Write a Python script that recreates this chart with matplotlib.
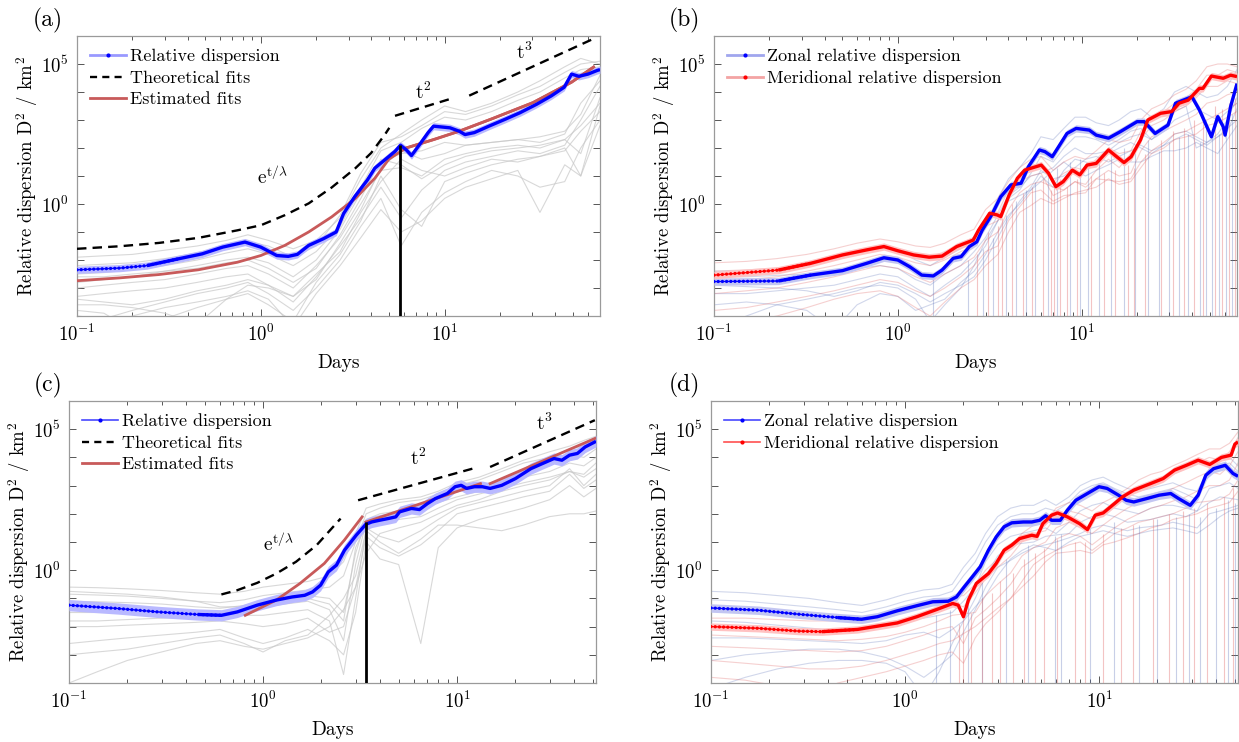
import numpy as np
import matplotlib
matplotlib.use("Agg")
import matplotlib.pyplot as plt
from matplotlib.lines import Line2D
from matplotlib.ticker import FixedLocator, NullFormatter, LogFormatterSciNotation

plt.rcParams.update({
    "font.family": "serif",
    "font.serif": ["cmr10"],
    "mathtext.fontset": "cm",
    "axes.unicode_minus": False,
    "axes.formatter.use_mathtext": True,
})

# ---------------- data (log10 of D^2 in km^2, time in days) ----------------
# Panel (a)
a_blue_t = [0.1, 0.17, 0.24, 0.355, 0.48, 0.62, 0.82, 1.0, 1.22, 1.41, 1.58, 1.82, 2.19, 2.57, 2.82,
            3.24, 3.8, 4.17, 4.73, 5.37, 5.75, 6.17, 6.6, 7.41, 8.13, 8.7, 10.7, 12.0, 12.9, 14.5,
            17.4, 21.4, 25.7, 31.6, 38.0, 44.7, 49.0, 53.7, 60.3, 67.6, 70.0]
a_blue_logD = [-2.35, -2.29, -2.2, -1.96, -1.78, -1.54, -1.36, -1.54, -1.84, -1.87, -1.8, -1.48, -1.24,
               -1.0, -0.34, 0.26, 0.86, 1.28, 1.58, 1.88, 2.1, 1.94, 1.73, 2.18, 2.55, 2.78, 2.72, 2.6,
               2.48, 2.55, 2.78, 3.03, 3.26, 3.56, 3.86, 4.17, 4.64, 4.56, 4.64, 4.77, 4.8]
a_fit_t = [0.1, 0.17, 0.279, 0.457, 0.746, 1.0, 1.35, 1.82, 2.43, 3.27, 4.17, 4.97, 6.17, 8.7, 12.0,
           18.2, 30.2, 49.0, 64.6]
a_fit_logD = [-2.74, -2.64, -2.52, -2.35, -2.08, -1.84, -1.48, -1.0, -0.46, 0.2, 0.92, 1.6, 2.0, 2.3,
              2.6, 3.05, 3.62, 4.35, 4.89]
a_exp_t = [0.1, 0.17, 0.279, 0.457, 0.746, 1.0, 1.35, 1.82, 2.43, 3.27, 3.98, 4.73, 5.0]
a_exp_logD = [-1.6, -1.51, -1.39, -1.21, -0.94, -0.76, -0.4, 0.02, 0.59, 1.28, 1.82, 2.48, 2.72]
a_t2_t = [5.37, 11.2]
a_t2_logD = [3.15, 3.79]
a_t3_t = [13.6, 63.0]
a_t3_logD = [3.87, 5.87]
a_split_t = 5.75
a_split_logD = 2.1

ga_t = [0.1, 0.14, 0.2, 0.3, 0.45, 0.65, 0.85, 1.1, 1.5, 2.0, 2.7, 3.5, 4.5, 5.8, 7.5, 10, 13, 18, 25,
        33, 45, 55, 70]
ga_lines = [
    [-1.9, -1.85, -1.8, -1.65, -1.5, -1.3, -1.1, -1.3, -1.6, -1.3, -0.5, 0.9, 2.0, 2.5, 3.0, 3.5, 3.3, 3.6, 4.0, 4.4, 4.9, 5.2, 5.0],
    [-2.2, -2.15, -2.1, -1.95, -1.75, -1.5, -1.35, -1.5, -1.9, -1.5, -0.4, 1.1, 2.2, 2.4, 2.8, 3.3, 3.2, 3.5, 3.9, 4.2, 4.7, 5.0, 5.1],
    [-2.5, -2.45, -2.35, -2.2, -2.0, -1.75, -1.6, -1.8, -2.2, -1.7, -0.8, 0.6, 1.9, 2.2, 2.7, 3.1, 3.0, 3.3, 3.7, 4.0, 4.5, 4.8, 4.9],
    [-2.8, -2.7, -2.6, -2.4, -2.2, -2.0, -1.9, -2.1, -2.6, -2.0, -0.9, 0.4, 1.5, 1.8, 1.9, 2.2, 2.1, 2.2, 2.3, 2.2, 2.5, 3.6, 4.4],
    [-3.0, -2.9, -2.8, -2.7, -2.5, -2.3, -2.2, -2.5, -3.0, -2.2, -1.2, 0.0, 1.2, 1.3, 1.0, 1.6, 1.8, 2.0, 2.1, 2.0, 2.3, 1.8, 3.8],
    [-3.3, -3.2, -3.1, -3.0, -2.8, -2.6, -2.5, -2.9, -3.5, -2.6, -1.5, -0.5, 0.6, -0.5, 0.5, 1.2, 1.5, 1.7, 1.9, 1.8, 2.1, 3.0, 4.2],
    [-3.6, -3.6, -3.7, -3.9, -4.3, -3.4, -2.9, -3.0, -3.3, -2.5, -1.7, -0.3, 0.8, 1.6, 1.2, 1.0, 1.3, 1.6, 1.5, 1.7, 2.0, 1.0, 3.5],
    [-4.0, -4.1, -3.8, -3.5, -3.2, -3.0, -2.8, -3.2, -3.8, -3.0, -2.0, -0.8, 0.2, -1.5, -0.3, 0.4, 0.8, 1.2, 1.0, 0.6, 0.8, 2.0, 3.0],
    [-3.4, -3.5, -3.6, -3.4, -3.1, -2.9, -2.7, -2.9, -3.3, -2.7, -1.4, -0.2, 1.3, 1.9, 1.6, 1.8, 2.1, 2.2, 2.3, 2.4, 2.6, 3.2, 4.6],
    [-4.6, -4.3, -4.0, -3.7, -3.5, -3.3, -3.1, -3.4, -4.4, -3.2, -2.2, -1.2, -0.2, -1.0, -0.6, 0.2, 0.6, 0.9, 1.2, -0.3, 1.4, 1.0, 2.8],
    [-2.6, -2.6, -2.5, -2.4, -2.3, -2.1, -2.0, -2.3, -2.8, -2.3, -1.1, 0.2, 1.6, 1.4, 0.9, 1.4, 1.7, 1.9, 2.0, 2.1, 2.3, 2.8, 3.6],
    [-3.8, -3.9, -4.5, -4.1, -3.7, -3.4, -3.2, -3.6, -4.2, -2.8, -1.8, -0.6, 1.0, -0.2, -0.8, 0.8, 1.1, 1.4, 1.6, 1.7, 1.9, 2.6, 3.3],
]

# Panel (b)
b_blue_t = [0.1, 0.224, 0.335, 0.5, 0.676, 0.84, 1.0, 1.16, 1.35, 1.56, 1.74, 2.0, 2.21, 2.45, 2.69, 2.88,
            3.24, 3.63, 4.12, 4.68, 5.13, 5.89, 6.31, 6.92, 7.5, 8.32, 9.33, 11.0, 12.0, 14.0, 16.2,
            20.0, 21.9, 25.1, 29.5, 32.4, 39.8, 43.7, 50.8, 55.0, 58.9, 60.3, 64.6, 70.0]
b_blue_logD = [-2.77, -2.75, -2.54, -2.38, -2.12, -1.92, -2.0, -2.24, -2.54, -2.57, -2.36, -1.94, -1.88,
               -1.52, -1.35, -0.93, -0.39, 0.26, 0.68, 0.74, 1.33, 1.93, 1.87, 1.69, 2.05, 2.52, 2.7,
               2.64, 2.46, 2.35, 2.58, 2.94, 2.94, 2.52, 2.82, 3.6, 3.83, 3.36, 2.4, 3.12, 2.76, 2.46,
               3.48, 4.3]
b_red_t = [0.1, 0.224, 0.335, 0.5, 0.676, 0.84, 1.0, 1.22, 1.48, 1.74, 2.09, 2.57, 2.75, 3.16, 3.47,
           3.63, 4.03, 4.47, 4.9, 6.03, 6.6, 7.24, 7.94, 8.9, 9.77, 10.7, 12.0, 14.0, 15.5, 17.0, 18.6,
           20.9, 22.9, 26.9, 30.9, 33.9, 38.0, 43.7, 45.7, 50.8, 58.9, 64.6, 70.0]
b_red_logD = [-2.54, -2.36, -2.12, -1.82, -1.64, -1.52, -1.67, -1.82, -1.9, -1.86, -1.52, -1.29, -0.93,
              -0.33, -0.39, -0.45, 0.32, 0.92, 1.21, 1.39, 1.1, 0.62, 0.8, 1.21, 1.04, 1.39, 1.45, 1.93,
              1.69, 1.48, 1.69, 2.29, 3.0, 3.24, 3.3, 3.6, 3.71, 4.13, 4.13, 4.57, 4.49, 4.6, 4.55]

gb_t = [0.1, 0.15, 0.22, 0.32, 0.45, 0.6, 0.8, 1.0, 1.25, 1.5, 1.8, 2.2, 2.6, 3.0, 3.5, 4.0, 4.6, 5.3,
        6.0, 7.0, 8.0, 9.2, 10.5, 12, 14, 16, 18.5, 21, 24, 28, 32, 37, 42, 48, 55, 62, 70]
gb_blue = [
    [-2.4, -2.4, -2.35, -2.2, -2.0, -1.8, -1.6, -1.65, -2.0, -2.2, -1.9, -1.6, -1.2, -0.7, 0.2, 0.9, 1.3, 1.8, 2.4, 2.3, 2.7, 3.1, 3.1, 2.9, 2.8, 3.0, 3.3, 3.4, 3.1, 3.4, 4.0, 4.2, 4.0, 3.8, 3.9, 4.2, 4.8],
    [-3.2, -3.2, -3.1, -3.0, -2.9, -2.7, -2.5, -2.6, -3.0, -3.3, -2.9, -2.5, -2.0, -1.5, -0.6, 0.2, 0.5, 1.1, 1.7, 1.5, 2.0, 2.4, 2.4, 2.3, 2.1, 2.3, 2.6, 2.7, 2.3, 2.7, 3.3, 3.5, 2.0, 2.2, 2.5, 3.0, 3.8],
    [-3.6, -3.5, -3.6, -3.8, -4.5, -3.6, -3.2, -3.3, -3.8, -3.6, -3.4, -2.8, -2.4, -1.8, -1.0, -0.4, 0.0, 0.5, 1.0, 0.6, 1.2, 1.6, 1.5, 1.4, 1.8, 2.0, 2.2, 2.0, 1.8, 2.1, 2.5, 2.6, 2.4, 2.2, 2.4, 2.6, 3.4],
    [-2.9, -2.95, -3.0, -3.1, -3.3, -3.1, -2.8, -2.9, -3.2, -3.5, -3.2, -2.9, -2.6, -2.0, -1.2, -0.5, 0.1, 0.6, 1.2, 0.9, 1.0, 1.3, 1.6, 1.7, 1.5, 1.7, 1.9, 2.1, 1.9, 2.1, 2.3, 2.5, 2.3, 2.1, 2.4, 2.7, 3.0],
    [-4.5, -4.0, -3.6, -3.4, -3.2, -3.0, -2.9, -3.0, -3.4, -4.2, -3.6, -3.0, -2.2, -1.3, -0.6, 0.1, 0.3, 0.5, 0.8, 1.2, 1.5, 1.2, 1.0, 1.2, 1.4, 1.6, 1.5, 1.5, 1.7, 1.9, 1.9, 2.0, 2.2, 2.0, 1.8, 2.3, 2.8],
    [-2.6, -2.6, -2.55, -2.5, -2.45, -2.3, -2.2, -2.3, -2.7, -2.9, -2.5, -2.2, -1.7, -1.2, -0.4, 0.3, 0.6, 1.0, 1.1, 1.3, 1.7, 2.0, 1.8, 1.8, 1.9, 2.2, 2.4, 2.5, 2.3, 2.6, 3.0, 3.2, 3.4, 3.2, 3.0, 3.3, 3.6],
]
gb_red = [
    [-2.1, -2.05, -1.95, -1.8, -1.6, -1.4, -1.25, -1.35, -1.5, -1.55, -1.4, -1.1, -0.9, -0.2, 0.2, 0.8, 1.3, 1.6, 1.7, 1.2, 1.5, 1.7, 1.6, 1.9, 2.3, 2.2, 2.3, 3.0, 3.4, 3.6, 3.9, 4.1, 4.4, 4.9, 5.0, 5.0, 4.9],
    [-2.8, -2.7, -2.6, -2.4, -2.2, -2.0, -1.8, -1.9, -2.1, -2.2, -2.0, -1.7, -1.5, -0.8, -0.6, 0.2, 0.8, 1.0, 1.1, 0.3, 0.5, 0.8, 0.7, 1.2, 1.6, 1.3, 1.8, 2.3, 2.8, 3.0, 3.3, 3.5, 3.8, 4.2, 4.2, 4.4, 4.3],
    [-3.2, -3.1, -3.0, -2.8, -2.6, -2.4, -2.2, -2.3, -2.6, -2.8, -2.5, -2.2, -1.9, -1.3, -1.0, -0.2, 0.4, 0.7, 0.8, 0.6, 0.5, 0.8, 0.6, 0.9, 1.2, 1.0, 1.1, 1.9, 2.4, 2.6, 2.8, 3.0, 3.2, 3.6, 3.7, 3.9, 4.0],
    [-3.8, -3.7, -3.5, -3.3, -3.1, -2.9, -2.7, -2.8, -3.1, -3.3, -3.0, -2.6, -2.2, -1.7, -1.5, -0.6, -0.1, 0.4, 0.5, 0.1, 0.3, 0.35, 0.4, 0.9, 0.85, 0.8, 0.9, 1.5, 1.9, 2.2, 2.5, 2.6, 2.8, 3.0, 3.2, 3.4, 3.6],
    [-4.5, -4.2, -4.0, -3.7, -3.4, -3.2, -3.1, -3.3, -3.7, -4.0, -3.5, -3.0, -2.7, -2.2, -1.8, -1.0, -0.3, -0.05, 0.2, 0.0, 0.2, 0.4, 0.5, 0.6, 0.9, 0.7, 0.8, 1.3, 1.8, 2.0, 2.3, 2.4, 2.5, 2.8, 2.9, 3.1, 3.3],
    [-2.4, -2.35, -2.3, -2.1, -1.9, -1.7, -1.55, -1.65, -1.8, -1.9, -1.7, -1.4, -1.2, -0.6, -0.3, 0.5, 1.0, 1.3, 1.4, 0.8, 1.1, 1.3, 1.2, 1.6, 2.0, 1.8, 1.9, 2.6, 3.1, 3.3, 3.6, 3.8, 4.1, 4.6, 4.6, 4.8, 4.7],
]
# narrow downward spikes of the individual pair curves: (time, level where they leave the curve)
b_blue_spk_t = [1.55, 2.4, 2.9, 3.3, 3.9, 4.4, 5.0, 5.6, 6.6, 7.3, 8.6, 9.8, 10.8, 12.5, 14.5, 17.0,
                19.5, 23.0, 26.5, 30.0, 34.0, 38.0, 44.0, 47.5, 51.0, 56.0, 61.0, 66.0]
b_blue_spk_top = [-2.6, -2.0, -1.6, -1.2, -0.4, 0.1, 0.5, 0.8, 1.0, 1.3, 1.5, 1.6, 1.5, 1.6, 1.9, 2.0,
                  2.1, 2.3, 1.9, 2.2, 2.4, 2.5, 2.2, 3.0, 2.6, 2.5, 3.0, 3.2]
b_red_spk_t = [2.7, 3.1, 3.5, 3.7, 4.2, 4.8, 5.4, 6.2, 6.8, 7.1, 7.6, 8.3, 9.4, 11.3, 13.3, 15.2, 17.8,
               19.2, 22.0, 27.0, 31.5, 36.0, 41.0, 46.0, 53.0, 58.0, 63.5, 68.0]
b_red_spk_top = [-1.8, -1.0, -0.8, -0.5, 0.0, 0.4, 0.6, 0.9, 0.5, 0.7, 0.9, 0.6, 0.9, 1.0, 1.1, 1.2, 1.4,
                 1.3, 1.8, 2.3, 2.6, 2.7, 3.0, 3.2, 3.5, 3.4, 3.6, 3.8]

# Panel (c)
c_blue_t = [0.1, 0.18, 0.288, 0.46, 0.61, 0.736, 0.933, 1.17, 1.41, 1.64, 1.8, 1.98, 2.17, 2.39, 2.63,
            3.02, 3.39, 3.63, 3.98, 4.4, 4.83, 5.06, 5.82, 6.4, 7.03, 7.73, 8.91, 9.77, 10.5, 11.2,
            12.3, 13.5, 14.8, 17.0, 20.0, 24.0, 27.5, 31.6, 34.7, 38.0, 41.7, 45.7, 52.0]
c_blue_logD = [-1.24, -1.36, -1.48, -1.57, -1.6, -1.48, -1.24, -1.06, -0.95, -0.89, -0.77, -0.53, -0.06,
               0.18, 0.71, 1.24, 1.63, 1.71, 1.77, 1.83, 1.89, 2.07, 2.19, 2.15, 2.36, 2.54, 2.72, 2.96,
               3.01, 2.9, 2.96, 2.96, 2.9, 3.01, 3.25, 3.6, 3.78, 3.96, 3.9, 4.08, 4.14, 4.37, 4.57]
c_fit1_t = [0.81, 1.17, 1.55, 2.07, 2.62, 3.24]
c_fit1_logD = [-1.6, -1.06, -0.47, 0.24, 1.06, 1.89]
c_fit2_t = [3.39, 13.2]
c_fit2_logD = [1.71, 3.07]
c_fit3_t = [14.8, 51.3]
c_fit3_logD = [3.07, 4.67]
c_exp_t = [0.61, 0.736, 0.933, 1.17, 1.48, 1.89, 2.51]
c_exp_logD = [-0.86, -0.71, -0.45, -0.12, 0.3, 0.89, 1.83]
c_t2_t = [3.09, 12.0]
c_t2_logD = [2.48, 3.6]
c_t3_t = [14.8, 51.3]
c_t3_logD = [3.66, 5.32]
c_split_t = 3.39
c_split_logD = 1.71

gc_t = [0.1, 0.14, 0.2, 0.3, 0.45, 0.6, 0.8, 1.0, 1.3, 1.7, 2.2, 2.6, 3.0, 3.4, 4.0, 5.0, 6.5, 8, 10,
        13, 17, 22, 30, 38, 45, 52]
gc_lines = [
    [-0.6, -0.62, -0.66, -0.72, -0.8, -0.85, -0.75, -0.6, -0.5, -0.4, -0.2, 0.3, 1.3, 2.2, 2.35, 2.5, 2.6, 2.8, 3.1, 3.3, 3.6, 3.9, 4.2, 4.4, 4.6, 4.75],
    [-0.85, -0.88, -0.92, -1.0, -1.1, -1.15, -1.05, -0.9, -0.8, -0.7, -0.6, -0.2, 1.0, 2.0, 2.2, 2.4, 2.5, 2.7, 3.0, 3.2, 3.5, 3.8, 4.0, 4.3, 4.4, 4.6],
    [-1.1, -1.12, -1.15, -1.2, -1.3, -1.35, -1.25, -1.1, -1.0, -0.9, -1.0, -1.5, 0.6, 1.8, 2.0, 2.1, 2.2, 2.5, 2.8, 3.0, 3.2, 3.5, 3.7, 4.1, 4.0, 4.3],
    [-1.5, -1.5, -1.5, -1.5, -1.5, -1.5, -1.4, -1.3, -1.2, -1.1, -1.4, -2.5, 0.2, 1.7, 1.6, 1.8, 1.9, 2.2, 2.5, 2.7, 2.9, 3.1, 3.3, 3.5, 3.4, 3.8],
    [-1.8, -1.8, -1.75, -1.7, -1.65, -1.6, -1.6, -1.6, -1.5, -1.4, -1.8, -3.7, -1.0, 1.5, 1.2, 1.0, 1.4, 1.8, 2.2, 2.4, 2.6, 2.8, 3.0, 3.6, 3.0, 3.4],
    [-2.0, -2.0, -1.95, -1.9, -1.85, -1.8, -1.9, -2.0, -1.9, -1.7, -2.2, -2.0, -0.6, 1.2, 0.8, 0.5, 0.9, 1.4, 2.0, 2.2, 2.4, 2.6, 2.8, 3.4, 2.9, 3.2],
    [-2.6, -2.5, -2.4, -2.3, -2.2, -2.1, -2.4, -2.6, -2.4, -2.1, -2.5, -3.0, -1.5, 1.0, 0.4, 0.2, -2.6, 0.8, 1.5, 1.8, 2.0, 2.2, 2.5, 3.0, 2.6, 2.9],
    [-3.0, -2.9, -2.8, -2.6, -2.4, -2.3, -2.6, -2.9, -2.5, -2.3, -1.6, -1.0, -0.2, 1.4, 1.0, 0.6, 1.1, 1.6, 1.6, 1.5, 1.4, 1.6, 1.9, 2.0, 2.0, 2.1],
    [-4.0, -3.6, -3.2, -2.9, -2.6, -2.5, -2.7, -2.8, -2.6, -2.4, -2.0, -1.4, -0.6, 0.6, 1.3, 1.5, 1.7, 2.0, 2.3, 2.5, 2.8, 3.0, 3.2, 3.5, 3.3, 3.6],
    [-0.75, -0.8, -0.85, -0.95, -1.1, -1.3, -1.3, -1.2, -1.1, -1.0, -1.2, -1.8, 0.8, 1.6, 1.8, 2.0, 2.3, 2.4, 2.6, 2.8, 3.0, 3.3, 3.5, 3.8, 3.7, 4.0],
]

# Panel (d)
d_blue_t = [0.1, 0.176, 0.282, 0.45, 0.597, 0.72, 0.912, 1.15, 1.39, 1.67, 1.84, 2.02, 2.22, 2.44, 2.69,
            2.95, 3.24, 3.55, 4.07, 4.5, 4.94, 5.3, 5.69, 6.31, 6.87, 7.59, 8.71, 10.0, 11.0, 12.6,
            13.8, 15.1, 17.6, 20.4, 23.4, 25.7, 29.5, 32.4, 35.5, 38.9, 44.7, 49.0, 52.0]
d_blue_logD = [-1.34, -1.42, -1.56, -1.68, -1.74, -1.65, -1.44, -1.26, -1.12, -1.1, -0.95, -0.59, -0.24,
               0.12, 0.71, 1.18, 1.54, 1.68, 1.71, 1.71, 1.77, 1.93, 1.77, 1.77, 2.13, 2.48, 2.72, 2.96,
               2.9, 2.66, 2.48, 2.42, 2.54, 2.66, 2.72, 2.54, 2.3, 2.66, 3.37, 3.6, 3.72, 3.43, 3.33]
d_red_t = [0.1, 0.176, 0.282, 0.372, 0.569, 0.912, 1.15, 1.46, 1.76, 1.88, 2.0, 2.12, 2.33, 2.69, 2.95,
           3.24, 3.55, 3.89, 4.5, 4.79, 5.13, 5.69, 6.11, 6.87, 7.94, 8.71, 9.55, 10.5, 12.0, 13.2,
           15.1, 18.4, 21.4, 24.5, 28.2, 32.4, 37.2, 42.7, 47.9, 50.1, 52.0]
d_red_logD = [-2.0, -2.06, -2.16, -2.18, -2.1, -1.87, -1.65, -1.39, -1.18, -1.24, -1.65, -1.06, -0.47,
              -0.12, 0.24, 0.71, 0.89, 1.12, 1.24, 1.2, 1.65, 1.95, 2.03, 1.89, 1.65, 1.44, 1.95, 2.03,
              2.36, 2.6, 2.84, 3.07, 3.25, 3.55, 3.72, 3.9, 3.75, 4.0, 4.08, 4.47, 4.55]

gd_t = [0.1, 0.15, 0.22, 0.32, 0.45, 0.6, 0.8, 1.0, 1.25, 1.5, 1.75, 2.0, 2.3, 2.6, 3.0, 3.5, 4.0, 4.6,
        5.3, 6.0, 7.0, 8.0, 9.2, 10.5, 12, 14, 16, 18.5, 21, 24, 28, 32, 37, 42, 47, 52]
gd_blue = [
    [-0.75, -0.8, -0.9, -1.0, -1.15, -1.25, -1.05, -0.85, -0.7, -0.65, -0.5, 0.1, 0.6, 1.3, 1.9, 2.2, 2.3, 2.3, 2.5, 2.3, 2.6, 3.0, 3.2, 3.3, 3.1, 2.9, 2.8, 2.9, 3.0, 3.1, 2.9, 2.8, 3.6, 3.9, 4.0, 3.7],
    [-1.05, -1.1, -1.2, -1.3, -1.4, -1.5, -1.3, -1.1, -0.95, -0.9, -0.75, -0.2, 0.3, 1.0, 1.6, 1.9, 2.0, 2.0, 2.2, 2.1, 2.4, 2.8, 3.0, 3.1, 2.9, 2.7, 2.6, 2.7, 2.8, 2.9, 2.7, 2.5, 3.4, 3.7, 3.8, 3.5],
    [-1.8, -1.85, -1.95, -2.05, -2.15, -2.2, -2.0, -1.8, -1.7, -1.6, -1.5, -1.1, -0.6, 0.3, 0.9, 1.2, 1.3, 1.4, 1.5, 1.3, 1.7, 2.1, 2.3, 2.4, 2.2, 2.1, 2.0, 2.2, 2.3, 2.3, 2.2, 2.1, 2.9, 3.0, 3.1, 2.9],
    [-2.4, -2.4, -2.45, -2.5, -2.55, -2.6, -2.5, -2.3, -2.2, -2.4, -2.1, -1.8, -1.0, -0.2, 0.5, 0.9, 0.95, 1.0, 1.2, 1.25, 1.3, 1.7, 1.9, 2.0, 1.9, 1.7, 1.75, 1.8, 1.9, 2.0, 1.9, 2.1, 2.4, 2.6, 2.55, 2.5],
    [-3.2, -3.0, -2.9, -2.8, -2.8, -2.9, -3.1, -3.4, -3.8, -3.4, -3.0, -2.2, -1.4, -0.6, 0.1, 0.35, 0.6, 0.8, 0.9, 1.0, 1.15, 1.3, 1.5, 1.6, 1.5, 1.4, 1.5, 1.55, 1.6, 1.7, 1.6, 1.5, 2.0, 2.1, 2.2, 2.3],
    [-4.2, -3.8, -3.5, -3.3, -3.2, -3.2, -3.3, -3.6, -4.5, -3.6, -2.6, -1.8, -1.3, -0.9, -0.2, 0.4, 0.7, 0.9, 0.8, 0.7, 1.0, 1.2, 1.3, 1.4, 1.3, 1.2, 1.3, 1.4, 1.45, 1.5, 1.4, 1.3, 1.6, 1.9, 2.1, 2.2],
]
gd_red = [
    [-1.7, -1.7, -1.75, -1.8, -1.8, -1.75, -1.65, -1.5, -1.3, -1.1, -0.95, -0.9, -0.5, 0.0, 0.4, 0.8, 1.3, 1.6, 1.7, 2.2, 2.4, 2.3, 2.1, 2.4, 2.6, 2.9, 3.2, 3.4, 3.5, 3.7, 3.9, 4.1, 4.3, 4.3, 4.5, 4.9],
    [-2.3, -2.35, -2.4, -2.45, -2.5, -2.45, -2.35, -2.2, -2.0, -1.8, -1.6, -1.55, -1.5, -0.9, -0.5, -0.1, 0.5, 0.8, 1.0, 1.5, 1.7, 1.5, 1.3, 1.6, 1.9, 2.2, 2.4, 2.5, 2.7, 2.9, 3.1, 3.3, 3.5, 3.4, 3.7, 4.2],
    [-2.7, -2.75, -2.8, -2.85, -2.9, -2.85, -2.7, -2.5, -2.3, -2.1, -2.0, -2.6, -1.7, -1.4, -1.0, -0.5, 0.1, 0.4, 0.7, 1.1, 1.3, 1.2, 0.9, 1.2, 1.5, 1.8, 2.0, 2.2, 2.3, 2.45, 2.6, 2.8, 3.0, 3.0, 3.2, 3.8],
    [-3.2, -3.3, -3.4, -3.5, -3.5, -3.4, -3.2, -3.0, -2.8, -2.6, -2.5, -2.25, -2.0, -1.7, -1.35, -1.0, -0.4, 0.2, 0.5, 0.7, 0.9, 1.0, 0.7, 1.0, 1.3, 1.5, 1.7, 1.8, 1.9, 2.0, 2.2, 2.4, 2.45, 2.5, 2.7, 3.2],
    [-3.8, -3.9, -4.1, -4.5, -4.0, -3.8, -3.6, -3.4, -3.2, -3.0, -2.9, -3.3, -2.4, -1.9, -1.5, -1.0, -0.6, -0.2, 0.3, 0.6, 0.65, 0.7, 0.6, 0.9, 1.0, 1.15, 1.3, 1.5, 1.6, 1.8, 1.9, 2.0, 2.2, 2.3, 2.4, 2.8],
    [-2.0, -2.0, -2.05, -2.1, -2.1, -2.05, -1.95, -1.8, -1.55, -1.3, -1.15, -1.3, -0.8, -0.3, 0.1, 0.5, 1.0, 1.3, 1.4, 1.9, 2.1, 2.0, 1.8, 2.1, 2.4, 2.7, 2.9, 3.1, 3.2, 3.4, 3.6, 3.8, 4.0, 3.9, 4.2, 4.7],
]
d_blue_spk_t = [1.45, 1.7, 2.1, 2.5, 3.3, 4.3, 5.9, 6.4, 9.0, 12.0, 16.0, 20.0, 25.0, 29.0, 33.0, 40.0,
                46.0, 50.0]
d_blue_spk_top = [-1.6, -1.4, -0.9, -0.4, 0.4, 0.9, 1.2, 1.3, 1.6, 1.7, 1.6, 1.8, 1.9, 2.0, 1.9, 2.2,
                  2.5, 2.4]
d_red_spk_t = [1.9, 2.0, 2.2, 2.5, 2.8, 3.1, 3.6, 4.1, 4.7, 5.2, 6.1, 7.5, 8.5, 10.5, 13.0, 15.0, 19.0,
               23.0, 27.0, 31.0, 36.0, 44.0, 49.0]
d_red_spk_top = [-1.9, -1.7, -1.5, -1.0, -0.8, -0.4, -0.1, 0.4, 0.6, 0.8, 1.1, 1.0, 1.0, 1.3, 1.5, 1.6,
                 1.8, 2.0, 2.1, 2.2, 2.4, 2.6, 2.9]

xlim_ab = (0.1, 70)
xlim_cd = (0.1, 52)
ylim_all = (1e-4, 1e6)

ylabel_txt = "Relative dispersion D$^2$ / km$^2$"

# ---------------- styles ----------------
BLUE = "#0000ff"
RED = "#ff0000"
FITRED = "#c85a5a"
GREY = "#c8c8c8"
THINB = "#5a70b8"
THINR = "#e06464"
W, H = 1239, 742

fig = plt.figure(figsize=(W / 100, H / 100), dpi=100)


def axpos(l, r, t, b):
    return [l / W, 1 - b / H, (r - l) / W, (b - t) / H]


axa = fig.add_axes(axpos(77, 600, 36, 316))
axb = fig.add_axes(axpos(714, 1237, 36, 316))
axc = fig.add_axes(axpos(69, 596, 401, 683))
axd = fig.add_axes(axpos(711, 1238, 401, 683))


def style(ax, xlim):
    ax.set_xscale("log")
    ax.set_yscale("log")
    ax.set_xlim(*xlim)
    ax.set_ylim(*ylim_all)
    ax.yaxis.set_major_locator(FixedLocator([1e0, 1e5]))
    ax.yaxis.set_minor_locator(FixedLocator([10.0 ** k for k in range(-4, 7)]))
    ax.yaxis.set_minor_formatter(NullFormatter())
    ax.yaxis.set_major_formatter(LogFormatterSciNotation())
    ax.xaxis.set_major_locator(FixedLocator([0.1, 1, 10]))
    ax.xaxis.set_minor_locator(FixedLocator([m * 10.0 ** k for k in (-1, 0, 1) for m in range(2, 10)]))
    ax.xaxis.set_minor_formatter(NullFormatter())
    ax.xaxis.set_major_formatter(LogFormatterSciNotation())
    ax.tick_params(which="both", direction="in", top=True, right=True, colors="#555555",
                   labelcolor="black", labelsize=13.5, width=0.7)
    ax.tick_params(which="major", length=5, pad=6)
    ax.tick_params(axis="x", which="minor", length=3)
    ax.tick_params(axis="y", which="minor", length=5)
    for s in ax.spines.values():
        s.set_color("#9a9a9a")
        s.set_linewidth(0.9)
    ax.set_xlabel("Days", fontsize=14, labelpad=6)
    ax.set_ylabel(ylabel_txt, fontsize=13.5, labelpad=1)


def thin(ax, t, lines, color, alpha, lw=0.8):
    for ln in lines:
        ax.plot(t, 10.0 ** np.array(ln), color=color, alpha=alpha, lw=lw, zorder=2)


def spikes(ax, t, top, color, alpha):
    ax.vlines(t, 1e-5, 10.0 ** np.array(top), color=color, alpha=alpha, lw=0.8, zorder=2)


def main(ax, t, logD, color, band_color, dot_end, band, lw=2.4):
    t = np.array(t)
    D = 10.0 ** np.array(logD)
    ax.fill_between(t, D * 10 ** (-band), D * 10 ** band, color=band_color, lw=0, zorder=3)
    k = int((t <= dot_end).sum())
    ax.plot(t[:k + 1], D[:k + 1], color=color, lw=0.9, zorder=5)
    ax.plot(t[:k + 1], D[:k + 1], color=color, lw=2.4, ls=(0, (0.01, 1.25)),
            dash_capstyle="round", zorder=5)
    ax.plot(t[k - 1:], D[k - 1:], color=color, lw=lw, zorder=5, solid_capstyle="butt")


def seg(ax, t, logD, **kw):
    ax.plot(t, 10.0 ** np.array(logD), **kw)


DASH = dict(color="black", lw=1.7, ls=(0, (4, 2.6)), zorder=6)
FIT = dict(color=FITRED, lw=2.0, zorder=4)
LEG = dict(loc="upper left", frameon=False, fontsize=13, handlelength=2.0, handletextpad=0.25,
           labelspacing=0.32, borderaxespad=0.3)

# ---------------- (a) ----------------
style(axa, xlim_ab)
thin(axa, ga_t, ga_lines, GREY, 0.7)
seg(axa, a_fit_t, a_fit_logD, **FIT)
main(axa, a_blue_t, a_blue_logD, BLUE, "#b9b9ff", 0.24, 0.13)
seg(axa, a_fit_t[12:], a_fit_logD[12:], **FIT)
seg(axa, a_exp_t, a_exp_logD, **DASH)
seg(axa, a_t2_t, a_t2_logD, **DASH)
seg(axa, a_t3_t, a_t3_logD, **DASH)
axa.vlines(a_split_t, 1e-5, 10 ** a_split_logD, color="black", lw=2.0, zorder=7)
axa.text(1.16, 10 ** 0.98, r"e$^{\mathrm{t}/\lambda}$", fontsize=14, ha="center", va="center")
axa.text(7.6, 10 ** 4.0, r"t$^2$", fontsize=14, ha="center", va="center")
axa.text(27, 10 ** 5.43, r"t$^3$", fontsize=14, ha="center", va="center")
h_a = [Line2D([], [], color="#9999ff", lw=2.0, marker=".", mfc=BLUE, mec=BLUE, ms=4),
       Line2D([], [], color="black", lw=1.7, ls=(0, (3, 2.2))),
       Line2D([], [], color=FITRED, lw=2.0)]
axa.legend(h_a, ["Relative dispersion", "Theoretical fits", "Estimated fits"], **LEG)

# ---------------- (b) ----------------
style(axb, xlim_ab)
thin(axb, gb_t, gb_blue, THINB, 0.28)
thin(axb, gb_t, gb_red, THINR, 0.3)
spikes(axb, b_blue_spk_t, b_blue_spk_top, THINB, 0.33)
spikes(axb, b_red_spk_t, b_red_spk_top, THINR, 0.38)
main(axb, b_blue_t, b_blue_logD, BLUE, "#c3c6f2", 0.24, 0.13)
main(axb, b_red_t, b_red_logD, RED, "#ffc2c2", 0.24, 0.13)
h_b = [Line2D([], [], color="#a0a6ee", lw=2.0, marker=".", mfc=BLUE, mec=BLUE, ms=4),
       Line2D([], [], color="#f3a4a4", lw=2.0, marker=".", mfc=RED, mec=RED, ms=4)]
axb.legend(h_b, ["Zonal relative dispersion", "Meridional relative dispersion"], **LEG)

# ---------------- (c) ----------------
style(axc, xlim_cd)
thin(axc, gc_t, gc_lines, GREY, 0.7)
main(axc, c_blue_t, c_blue_logD, BLUE, "#b9b9ff", 0.55, 0.2)
seg(axc, c_fit1_t, c_fit1_logD, **FIT)
seg(axc, c_fit2_t, c_fit2_logD, **FIT)
seg(axc, c_fit3_t, c_fit3_logD, **FIT)
seg(axc, c_exp_t, c_exp_logD, **DASH)
seg(axc, c_t2_t, c_t2_logD, **DASH)
seg(axc, c_t3_t, c_t3_logD, **DASH)
axc.vlines(c_split_t, 1e-5, 10 ** c_split_logD, color="black", lw=2.0, zorder=7)
axc.text(1.2, 10 ** 0.95, r"e$^{\mathrm{t}/\lambda}$", fontsize=14, ha="center", va="center")
axc.text(6.3, 10 ** 3.96, r"t$^2$", fontsize=14, ha="center", va="center")
axc.text(28.3, 10 ** 5.2, r"t$^3$", fontsize=14, ha="center", va="center")
h_c = [Line2D([], [], color="#4848ff", lw=1.2, marker=".", mfc=BLUE, mec=BLUE, ms=4),
       Line2D([], [], color="black", lw=1.7, ls=(0, (3, 2.2))),
       Line2D([], [], color=FITRED, lw=2.0)]
axc.legend(h_c, ["Relative dispersion", "Theoretical fits", "Estimated fits"], **LEG)

# ---------------- (d) ----------------
style(axd, xlim_cd)
thin(axd, gd_t, gd_blue, THINB, 0.28)
thin(axd, gd_t, gd_red, THINR, 0.3)
spikes(axd, d_blue_spk_t, d_blue_spk_top, THINB, 0.33)
spikes(axd, d_red_spk_t, d_red_spk_top, THINR, 0.38)
main(axd, d_blue_t, d_blue_logD, BLUE, "#c3c6f2", 0.5, 0.15)
main(axd, d_red_t, d_red_logD, RED, "#ffc2c2", 0.42, 0.13)
h_d = [Line2D([], [], color="#4848ff", lw=1.2, marker=".", mfc=BLUE, mec=BLUE, ms=4),
       Line2D([], [], color="#ff5050", lw=1.2, marker=".", mfc=RED, mec=RED, ms=4)]
axd.legend(h_d, ["Zonal relative dispersion", "Meridional relative dispersion"], **LEG)

# panel letters
for lbl, x, y in [("(a)", 48, 20), ("(b)", 684, 20), ("(c)", 48, 385), ("(d)", 684, 385)]:
    fig.text(x / W, 1 - y / H, lbl, fontsize=17, ha="center", va="center")

fig.savefig("out.png", dpi=100)
